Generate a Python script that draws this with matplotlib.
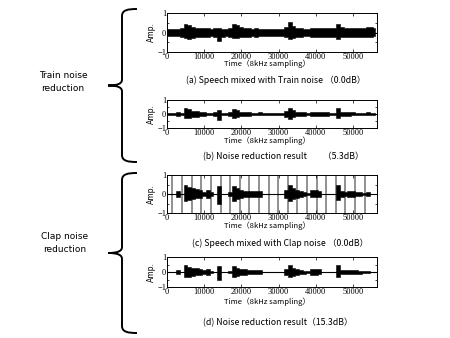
import numpy as np
import matplotlib
matplotlib.use("Agg")
import matplotlib.pyplot as plt
from matplotlib.path import Path
from matplotlib.patches import PathPatch
from matplotlib.ticker import MultipleLocator

# sample positions (thousands of samples) for envelope readings
t_k = list(range(0, 57))

# (a) speech + train noise: upper / lower envelope (lower given as magnitude)
a_up = [.18, .18, .18, .20, .22, .45, .40, .30, .25, .22, .22, .22, .20, .22, .25, .20, .20, .25, .45, .40,
        .30, .22, .22, .20, .22, .20, .18, .18, .18, .18, .18, .18, .30, .55, .35, .25, .22, .20, .20, .22,
        .25, .25, .22, .25, .22, .22, .45, .30, .25, .22, .22, .22, .22, .25, .28, .30, .22]
a_lo = [.18, .18, .18, .20, .22, .30, .35, .28, .25, .22, .22, .22, .20, .22, .45, .22, .20, .22, .30, .30,
        .25, .22, .22, .20, .22, .20, .18, .18, .18, .18, .18, .18, .25, .35, .30, .22, .22, .20, .20, .22,
        .22, .22, .22, .22, .22, .22, .35, .25, .22, .22, .22, .22, .22, .22, .22, .25, .20]
# (b) noise reduction result
b_up = [.05, .05, .05, .15, .08, .45, .35, .20, .20, .12, .15, .10, .08, .12, .25, .08, .08, .15, .35, .25,
        .15, .12, .12, .10, .10, .12, .05, .05, .05, .05, .05, .05, .20, .45, .25, .15, .12, .12, .10, .12,
        .15, .15, .12, .12, .10, .08, .40, .15, .12, .12, .12, .10, .10, .10, .12, .10, .05]
b_lo = [.05, .05, .05, .12, .08, .30, .30, .18, .18, .12, .12, .10, .08, .12, .45, .08, .08, .12, .30, .22,
        .12, .12, .12, .10, .10, .10, .05, .05, .05, .05, .05, .05, .18, .35, .22, .15, .12, .12, .10, .12,
        .12, .12, .12, .12, .10, .08, .30, .15, .12, .12, .10, .10, .10, .10, .10, .10, .05]
# (c) speech + clap noise (speech part)
c_up = [0, 0, 0, .15, .02, .45, .35, .30, .25, .20, .12, .20, .08, .02, .40, .02, 0, .08, .40, .30,
        .20, .18, .15, .15, .15, .15, .02, 0, .02, 0, 0, 0, .20, .50, .30, .20, .15, .10, .05, .20,
        .20, .18, .02, 0, 0, 0, .45, .15, .12, .15, .15, .12, .10, .05, .08, 0, 0]
c_lo = [0, 0, 0, .15, .02, .35, .30, .28, .22, .20, .12, .20, .08, .02, .50, .02, 0, .08, .35, .28,
        .20, .18, .15, .15, .15, .15, .02, 0, .02, 0, 0, 0, .20, .35, .28, .20, .15, .10, .05, .18,
        .18, .15, .02, 0, 0, 0, .30, .15, .12, .15, .15, .12, .10, .05, .08, 0, 0]
# clap positions (samples)
claps = [1430, 4120, 6720, 9230, 11740, 14430, 17020, 19530, 22040, 24640, 27420,
         29840, 32530, 35030, 37720, 40320, 42830, 45520, 47940, 50630, 53140]
# (d) noise reduction result
d_up = [0, 0, 0, .15, .02, .45, .35, .30, .25, .20, .12, .20, .08, .02, .40, .02, 0, .08, .40, .30,
        .20, .18, .15, .15, .15, .15, .02, 0, .02, 0, 0, 0, .20, .50, .30, .20, .15, .10, .05, .20,
        .20, .18, .02, 0, 0, 0, .45, .15, .12, .15, .15, .12, .10, .05, .08, 0, 0]
d_lo = [0, 0, 0, .15, .02, .35, .30, .28, .22, .20, .12, .20, .08, .02, .50, .02, 0, .08, .35, .28,
        .20, .18, .15, .15, .15, .15, .02, 0, .02, 0, 0, 0, .20, .35, .28, .20, .15, .10, .05, .18,
        .18, .15, .02, 0, 0, 0, .30, .15, .12, .15, .15, .12, .10, .05, .08, 0, 0]

captions = ["(a) Speech mixed with Train noise （0.0dB）",
            "(b) Noise reduction result        （5.3dB）",
            "(c) Speech mixed with Clap noise （0.0dB）",
            "(d) Noise reduction result（15.3dB）"]
group_labels = ["Train noise\nreduction", "Clap noise\nreduction"]
xticks = [0, 10000, 20000, 30000, 40000, 50000]
xlabel = "Time（8kHz sampling）"

W, H = 450, 338
fig = plt.figure(figsize=(4.5, 3.38), dpi=100)

# axes boxes in pixels: (left, top, right, bottom)
boxes = [(167, 13, 377, 52), (167, 100, 377, 128), (167, 175, 377, 213), (167, 257, 377, 287)]
xlab_y = [64, 141, 226, 302]
cap_y = [80, 157, 243, 323]
cap_x = [276, 283, 280, 278]

series = [(a_up, a_lo), (b_up, b_lo), (c_up, c_lo), (d_up, d_lo)]
cjk = ['Noto Sans CJK JP', 'DejaVu Sans']
x = np.array(t_k) * 1000.0

for i, ((up, lo), (l, t, r, b)) in enumerate(zip(series, boxes)):
    ax = fig.add_axes([l / W, 1 - b / H, (r - l) / W, (b - t) / H])
    if i == 2:
        ax.vlines(claps, -1, 1, color='0.45', lw=1.1, zorder=1)
    ax.fill_between(x, -np.array(lo), np.array(up), step='mid', color='black', lw=0.4, zorder=2)
    ax.axhline(0, color='black', lw=0.8, zorder=3)
    ax.set_xlim(0, 56500)
    ax.set_ylim(-1, 1)
    ax.set_xticks(xticks)
    ax.set_yticks([-1, 0, 1])
    ax.yaxis.set_minor_locator(MultipleLocator(0.5))
    ax.tick_params(direction='in', top=True, right=True, length=2.5, width=0.5,
                   labelsize=6, pad=0.5)
    ax.tick_params(which='minor', direction='in', right=True, length=1.5, width=0.5)
    for lab in ax.get_xticklabels() + ax.get_yticklabels():
        lab.set_fontfamily('Liberation Serif')
    for s in ax.spines.values():
        s.set_linewidth(0.7)
    ax.set_ylabel("Amp.", fontsize=5.5, labelpad=1, family='DejaVu Sans')
    fig.text((l + r) / 2 / W - 0.01, 1 - xlab_y[i] / H, xlabel, ha='center', va='center',
             fontsize=5.5, family=cjk)
    fig.text(cap_x[i] / W, 1 - cap_y[i] / H, captions[i], ha='center', va='center',
             fontsize=6.3, family=cjk)

# overlay for braces and group labels (pixel coordinates)
ov = fig.add_axes([0, 0, 1, 1])
ov.set_xlim(0, W)
ov.set_ylim(H, 0)
ov.axis('off')

def brace(top, bot, xv=122, xe=137, xt=108):
    mid = (top + bot) / 2
    verts = [(xe, top), (128, top), (xv, top + 1), (xv, top + 7),
             (xv, mid - 6),
             (xv, mid - 2), (118, mid), (xt, mid),
             (118, mid), (xv, mid + 2), (xv, mid + 6),
             (xv, bot - 7),
             (xv, bot - 1), (128, bot), (xe, bot)]
    codes = [Path.MOVETO, Path.CURVE4, Path.CURVE4, Path.CURVE4,
             Path.LINETO,
             Path.CURVE4, Path.CURVE4, Path.CURVE4,
             Path.CURVE4, Path.CURVE4, Path.CURVE4,
             Path.LINETO,
             Path.CURVE4, Path.CURVE4, Path.CURVE4]
    ov.add_patch(PathPatch(Path(verts, codes), fill=False, lw=1.4, color='black'))

brace(9, 162)
brace(173, 333)
ov.text(63, 82, group_labels[0], ha='center', va='center', fontsize=6.5,
        family='DejaVu Sans', linespacing=1.5)
ov.text(65, 243, group_labels[1], ha='center', va='center', fontsize=6.5,
        family='DejaVu Sans', linespacing=1.5)

fig.savefig("out.png", dpi=100)
